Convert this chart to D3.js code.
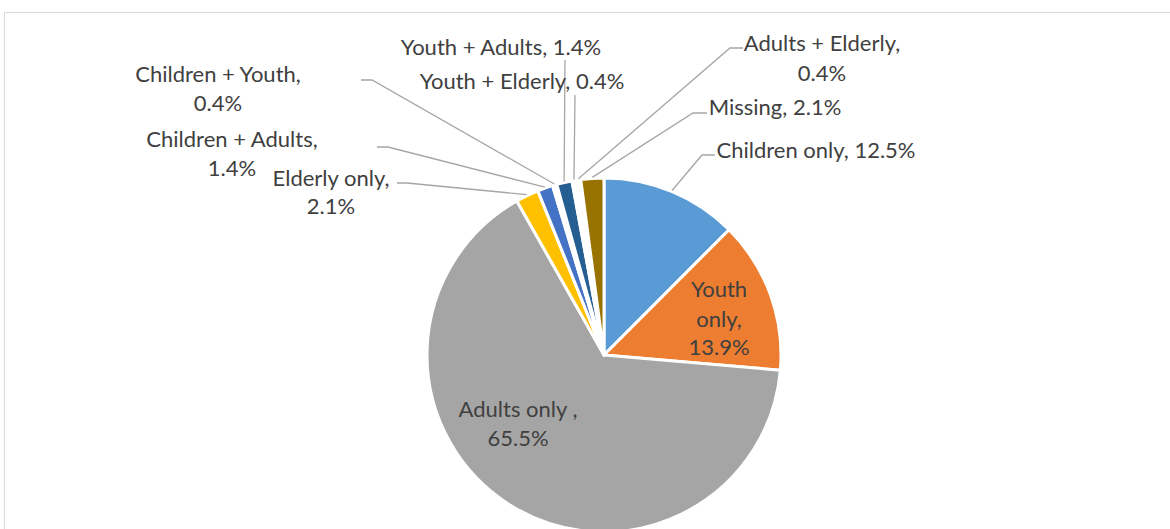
<!DOCTYPE html>
<html>
<head>
<meta charset="utf-8">
<script src="https://cdn.jsdelivr.net/npm/d3@7"></script>
<style>
  html, body { margin: 0; padding: 0; background: #fff; overflow: hidden; }
  svg { display: block; }
  text { font-family: Lato, "Open Sans", sans-serif; fill: #404040; }
</style>
</head>
<body>
<svg id="chart" width="1170" height="529"></svg>
<script>
// Household composition shares (percent), in clockwise order from 12 o'clock
const categories = [
  "Children only", "Youth only", "Adults only ", "Elderly only",
  "Children + Adults", "Children + Youth", "Youth + Adults",
  "Youth + Elderly", "Adults + Elderly", "Missing"
];
const shares = [12.5, 13.9, 65.5, 2.1, 1.4, 0.4, 1.4, 0.4, 0.4, 2.1];
const sliceColors = [
  "#5B9BD5", "#ED7D31", "#A5A5A5", "#FFC000", "#4472C4",
  "#FFFFFF", "#255E91", "#FFFFFF", "#FFFFFF", "#997300"
];

// Label placement: line anchors (centre x, baseline y), and leader-line bend points
const labelLayout = {
  "Children only":     { lines: [[816, 158]], leader: [[715, 155], [702, 155]] },
  "Youth only":        { lines: [[719, 297], [719, 327], [719, 355]] },
  "Adults only ":      { lines: [[518, 417], [518, 446]] },
  "Elderly only":      { lines: [[331, 186], [331, 214]], leader: [[397, 183], [407, 183]] },
  "Children + Adults": { lines: [[232, 147], [232, 176]], leader: [[377, 147], [388, 147]] },
  "Children + Youth":  { lines: [[218, 82], [218, 111]], leader: [[361, 80], [372, 80]] },
  "Youth + Adults":    { lines: [[501, 55]], leader: [[565, 60]] },
  "Youth + Elderly":   { lines: [[522, 89]], leader: [[575, 95]] },
  "Adults + Elderly":  { lines: [[822, 51], [822, 81]], leader: [[743, 48], [730, 48]] },
  "Missing":           { lines: [[775, 115]], leader: [[707, 113], [693, 113]] }
};

const width = 1170, height = 529;
const cx = 604, cy = 355, radius = 177;

const svg = d3.select("#chart");

// chart area frame
svg.append("rect")
  .attr("x", 4.5).attr("y", 12.5)
  .attr("width", width + 20).attr("height", height + 20)
  .attr("fill", "#fff")
  .attr("stroke", "#D9D9D9")
  .attr("stroke-width", 1);

const data = categories.map((name, i) => ({ name, value: shares[i], color: sliceColors[i] }));

const pie = d3.pie().sort(null).value(d => d.value);
const arcs = pie(data);
const arc = d3.arc().innerRadius(0).outerRadius(radius);

const g = svg.append("g").attr("transform", `translate(${cx},${cy})`);

g.selectAll("path.slice")
  .data(arcs)
  .join("path")
  .attr("class", "slice")
  .attr("d", arc)
  .attr("fill", d => d.data.color)
  .attr("stroke", "#fff")
  .attr("stroke-width", 3)
  .attr("stroke-linejoin", "round");

// leader lines from slice rim to the label
arcs.forEach(a => {
  const lay = labelLayout[a.data.name];
  if (!lay || !lay.leader) return;
  const mid = (a.startAngle + a.endAngle) / 2;
  const rim = [cx + (radius + 1) * Math.sin(mid), cy - (radius + 1) * Math.cos(mid)];
  const pts = [...lay.leader, rim];
  svg.append("path")
    .attr("d", d3.line()(pts))
    .attr("fill", "none")
    .attr("stroke", "#A6A6A6")
    .attr("stroke-width", 1.3);
});

// data labels
const fmt = v => v.toFixed(1) + "%";
arcs.forEach(a => {
  const lay = labelLayout[a.data.name];
  const name = a.data.name, pct = fmt(a.data.value);
  let parts;
  if (lay.lines.length === 1) parts = [name + ", " + pct];
  else if (lay.lines.length === 2) parts = [name + ",", pct];
  else {
    const words = name.split(" ");
    words[words.length - 1] += ",";
    parts = [...words, pct];
  }
  parts.forEach((t, i) => {
    svg.append("text")
      .attr("x", lay.lines[i][0])
      .attr("y", lay.lines[i][1])
      .attr("text-anchor", "middle")
      .attr("font-size", 22)
      .text(t);
  });
});
</script>
</body>
</html>
